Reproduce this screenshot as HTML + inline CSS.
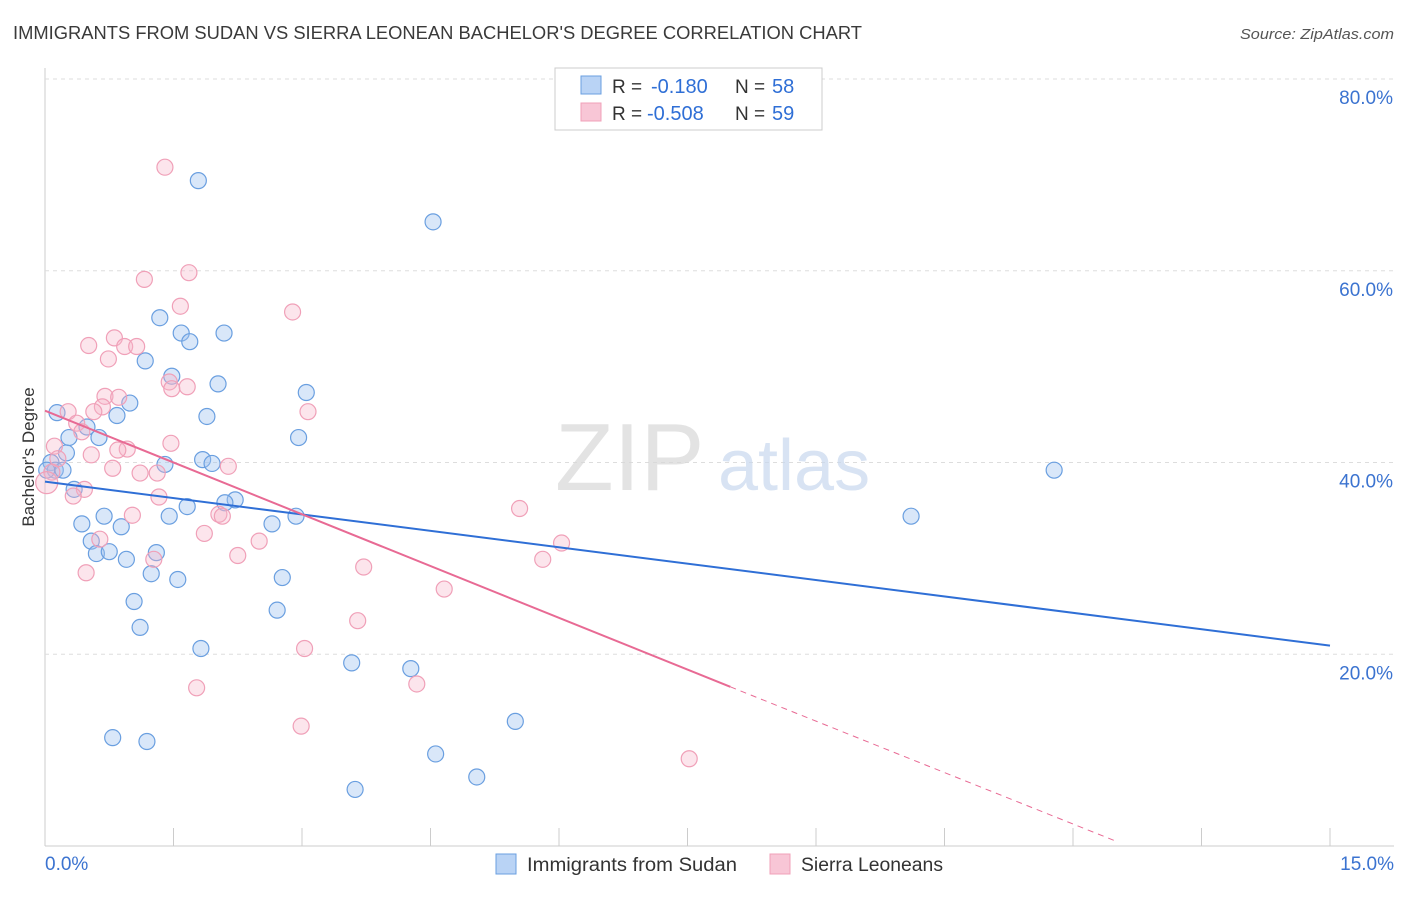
<!DOCTYPE html>
<html><head><meta charset="utf-8">
<style>
body{margin:0;background:#fff;font-family:"Liberation Sans",sans-serif;}
svg text{font-family:"Liberation Sans",sans-serif;}
</style></head>
<body>
<svg id="chart" width="1406" height="892" xmlns="http://www.w3.org/2000/svg">
<text x="13" y="39" font-size="18" fill="#3a3a3a" textLength="849" lengthAdjust="spacingAndGlyphs">IMMIGRANTS FROM SUDAN VS SIERRA LEONEAN BACHELOR'S DEGREE CORRELATION CHART</text>
<text x="1240" y="39" font-size="15" fill="#555" font-style="italic" textLength="154" lengthAdjust="spacingAndGlyphs">Source: ZipAtlas.com</text>
<text transform="translate(34,457) rotate(-90)" font-size="17" fill="#333" text-anchor="middle">Bachelor's Degree</text>
<g id="grid"></g>
<text x="555" y="490" font-size="96" fill="#d8d8d8" font-family="Liberation Serif" opacity="0.7">ZIP</text>
<text x="718" y="490" font-size="72" fill="#c8d8ee" opacity="0.7">atlas</text>
<g id="marks"></g>
<g>
<rect x="555" y="68" width="267" height="62" fill="#fff" stroke="#ccc"/>
<rect x="581" y="76" width="20" height="18" fill="#b9d3f5" stroke="#6a9fe0"/>
<rect x="581" y="103" width="20" height="18" fill="#f8c6d6" stroke="#f0a0b8"/>
<text x="612" y="93" font-size="19" fill="#333">R =</text>
<text x="651" y="93" font-size="20" fill="#2f6fd6">-0.180</text>
<text x="735" y="93" font-size="19" fill="#333">N =</text>
<text x="772" y="93" font-size="20" fill="#2f6fd6">58</text>
<text x="612" y="120" font-size="19" fill="#333">R =</text>
<text x="647" y="120" font-size="20" fill="#2f6fd6">-0.508</text>
<text x="735" y="120" font-size="19" fill="#333">N =</text>
<text x="772" y="120" font-size="20" fill="#2f6fd6">59</text>
</g>
<g>
<rect x="496" y="854" width="20" height="20" fill="#b9d3f5" stroke="#6a9fe0"/>
<text x="527" y="871" font-size="19" fill="#333" textLength="210" lengthAdjust="spacingAndGlyphs">Immigrants from Sudan</text>
<rect x="770" y="854" width="20" height="20" fill="#f8c6d6" stroke="#f0a0b8"/>
<text x="801" y="871" font-size="19" fill="#333" textLength="142" lengthAdjust="spacingAndGlyphs">Sierra Leoneans</text>
</g>
</svg>
<script>
const yTicks=[20,40,60,80];
const xTickLabels=["0.0%","15.0%"];
const blueX=[1.79,4.53,11.78,10.11,1.34,1.59,1.69,2.09,1.17,1.48,2.02,3.05,0.99,0.84,1.89,0.14,0.49,0.28,0.63,2.96,0.25,1.84,1.95,1.40,0.07,0.12,0.21,0.02,0.34,2.22,2.10,1.66,1.45,0.69,2.93,0.43,0.89,2.65,0.54,0.60,0.75,0.95,1.30,1.24,1.55,2.77,1.04,2.71,1.11,1.82,3.58,4.27,5.49,0.79,1.19,4.56,5.04,3.62];
const blueY=[69.4,65.1,39.2,34.4,55.1,53.5,52.6,53.5,50.6,49.0,48.2,47.3,46.2,44.9,44.8,45.2,43.7,42.6,42.6,42.6,41.0,40.3,39.9,39.8,40.0,39.2,39.2,39.2,37.2,36.1,35.8,35.4,34.4,34.4,34.4,33.6,33.3,33.6,31.8,30.5,30.7,29.9,30.6,28.4,27.8,28.0,25.5,24.6,22.8,20.6,19.1,18.5,13.0,11.3,10.9,9.6,7.2,5.9];
const pinkX=[1.40,1.68,1.16,1.58,2.89,0.81,0.51,0.93,1.07,0.74,1.45,1.48,1.66,0.70,0.86,0.67,3.07,0.57,0.27,0.37,0.43,1.47,0.11,0.96,0.85,0.54,2.14,0.15,0.79,1.11,1.31,0.08,0.02,0.46,1.33,0.33,2.03,2.07,1.02,5.54,1.86,0.64,2.50,6.03,2.25,5.81,1.27,3.72,0.48,4.66,3.65,3.03,4.34,1.77,2.99,7.52];
const pinkY=[70.8,59.8,59.1,56.3,55.7,53.0,52.2,52.1,52.1,50.8,48.4,47.7,47.9,46.9,46.8,45.8,45.3,45.3,45.3,44.1,43.2,42.0,41.7,41.4,41.3,40.8,39.6,40.4,39.4,38.9,38.9,39.0,37.9,37.2,36.4,36.5,34.6,34.4,34.5,35.2,32.6,32.0,31.8,31.6,30.3,29.9,29.9,29.1,28.5,26.8,23.5,20.6,16.9,16.5,12.5,9.1];
const blueTrend=[38.0,20.9];
const pinkTrend=[45.4,16.6,0.4];
const pinkTrendX=[0,8.0,12.53];

const X0=45,X1=1330,YB=846,YT=79;
const xs=v=>X0+(v/15)*(X1-X0);
const ys=v=>YB-(v/80)*(YB-YT);
const NS="http://www.w3.org/2000/svg";
function mk(t,a,p){const e=document.createElementNS(NS,t);for(const k in a)e.setAttribute(k,a[k]);p.appendChild(e);return e;}
const grid=document.getElementById('grid'),marks=document.getElementById('marks');
const ax=mk('line',{x1:X0,y1:68,x2:X0,y2:YB,stroke:'#ccc'},grid);


const bx=mk('line',{x1:X0,y1:YB,x2:1394,y2:YB,stroke:'#ccc'},grid);


for(let i=0;i<=10;i++){const t=mk('line',{x1:xs(i*1.5),y1:YB,x2:xs(i*1.5),y2:YB-18,stroke:'#ccc'},grid);

}
yTicks.forEach(v=>{const l=mk('line',{x1:X0,y1:ys(v),x2:1394,y2:ys(v),stroke:'#ddd','stroke-dasharray':'4,4'},grid);


const t=mk('text',{x:1393,y:ys(v)+25,'font-size':19,fill:'#3b73d0','text-anchor':'end'},grid);t.textContent=v.toFixed(1)+'%';

});
const xl0=mk('text',{x:45,y:870,'font-size':19,fill:'#3b73d0'},grid);xl0.textContent=xTickLabels[0];


const xl1=mk('text',{x:1394,y:870,'font-size':19,fill:'#3b73d0','text-anchor':'end'},grid);xl1.textContent=xTickLabels[1];


blueX.forEach((x,i)=>{const c=mk('circle',{cx:xs(x),cy:ys(blueY[i]),r:8,fill:'rgba(160,195,240,0.4)',stroke:'#6a9fe0','stroke-width':1.2},marks);

});
pinkX.forEach((x,i)=>{const c=mk('circle',{cx:xs(x),cy:ys(pinkY[i]),r:i==32?11:8,fill:'rgba(245,180,200,0.35)',stroke:'#f0a0b8','stroke-width':1.2},marks);

});
const bt=mk('line',{x1:xs(0),y1:ys(blueTrend[0]),x2:xs(15),y2:ys(blueTrend[1]),stroke:'#2f6fd6','stroke-width':2},marks);


const pt=mk('line',{x1:xs(pinkTrendX[0]),y1:ys(pinkTrend[0]),x2:xs(pinkTrendX[1]),y2:ys(pinkTrend[1]),stroke:'#e86a94','stroke-width':2},marks);


const pd=mk('line',{x1:xs(pinkTrendX[1]),y1:ys(pinkTrend[1]),x2:xs(pinkTrendX[2]),y2:ys(pinkTrend[2]),stroke:'#e86a94','stroke-width':1,'stroke-dasharray':'6,5'},marks);


</script>
</body></html>
